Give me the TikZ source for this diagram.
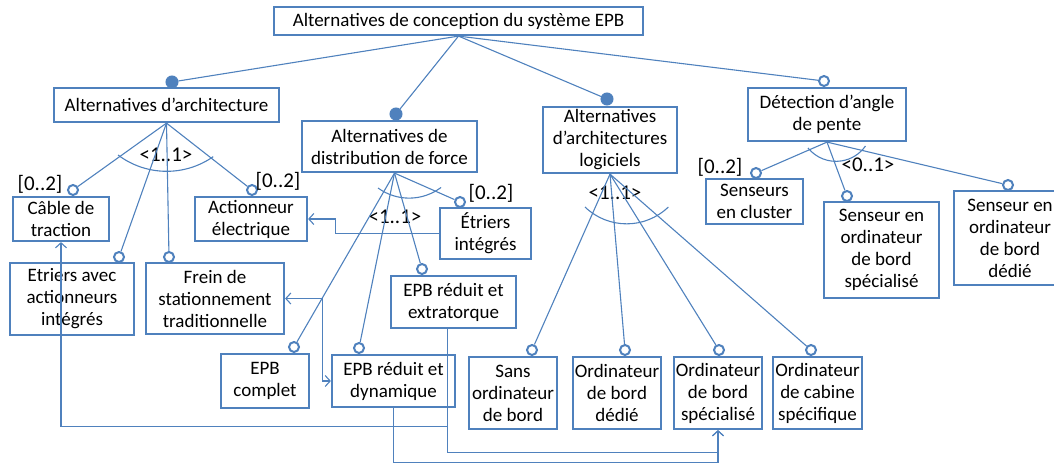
\documentclass[tikz,border=0pt]{standalone}
\usepackage{fontspec}
\setmainfont{Carlito}
\usetikzlibrary{arrows.meta}
\definecolor{epbblue}{RGB}{79,129,189}

\begin{document}
\begin{tikzpicture}[x=1pt,y=-1pt,
	font=\fontsize{19}{22}\selectfont,
	box/.style={draw=epbblue,line width=2.2pt,align=center,inner sep=1pt},
	link/.style={draw=epbblue,line width=1.1pt},
	card/.style={font=\fontsize{21}{24}\selectfont,inner sep=0pt},
	fdot/.style={circle,fill=epbblue,draw=epbblue,line width=1pt,minimum size=12pt,inner sep=0pt},
	odot/.style={circle,fill=white,draw=epbblue,line width=2pt,minimum size=10pt,inner sep=0pt},
	flow/.style={link,-{Straight Barb[length=5pt,width=11pt]}},
	flowboth/.style={link,{Straight Barb[length=5pt,width=11pt]}-{Straight Barb[length=5pt,width=11pt]}}]
	\clip (0,0) rectangle (1054,463);
	
	\node[box,minimum width=369pt,minimum height=28pt] (root) at (458.5,21) {Alternatives de conception du système EPB};
	\node[box,minimum width=225pt,minimum height=34pt] (arch) at (166.5,105) {Alternatives d’architecture};
	\node[box,minimum width=175pt,minimum height=51pt] (dist) at (389.5,146.5) {Alternatives de\\distribution de force};
	\node[box,minimum width=134pt,minimum height=66pt] (logi) at (610,140) {Alternatives\\d’architectures\\logiciels};
	\node[box,minimum width=158pt,minimum height=53pt] (slope) at (827,114.5) {Détection d’angle\\de pente};
	
	\node[box,minimum width=96pt,minimum height=44pt] (cable) at (61,219) {Câble de\\traction};
	\node[box,minimum width=112pt,minimum height=44pt] (actuator) at (251,219) {Actionneur\\électrique};
	\node[box,minimum width=124pt,minimum height=72pt] (calipact) at (72,299) {Etriers avec\\actionneurs\\intégrés};
	\node[box,minimum width=138pt,minimum height=71pt] (brake) at (215,298.5) {Frein de\\stationnement\\traditionnelle};
	\node[box,minimum width=91pt,minimum height=51pt] (calipint) at (485.5,233.5) {Étriers\\intégrés};
	\node[box,minimum width=125pt,minimum height=52pt] (extra) at (453.5,302) {EPB réduit et\\extratorque};
	\node[box,minimum width=88pt,minimum height=54pt] (full) at (265,381) {EPB\\complet};
	\node[box,minimum width=123pt,minimum height=52pt] (dyn) at (393.5,381) {EPB réduit et\\dynamique};
	\node[box,minimum width=88pt,minimum height=72pt] (noecu) at (513,393) {Sans\\ordinateur\\de bord};
	\node[box,minimum width=88pt,minimum height=72pt] (ecuded) at (617,393) {Ordinateur\\de bord\\dédié};
	\node[box,minimum width=88pt,minimum height=72pt] (ecuspec) at (718,393) {Ordinateur\\de bord\\spécialisé};
	\node[box,minimum width=89pt,minimum height=72pt] (cabin) at (817.5,393) {Ordinateur\\de cabine\\spécifique};
	\node[box,minimum width=97pt,minimum height=45pt] (cluster) at (754.5,201.5) {Senseurs\\en cluster};
	\node[box,minimum width=115pt,minimum height=96pt] (senspec) at (881.5,250) {Senseur en\\ordinateur\\de bord\\spécialisé};
	\node[box,minimum width=112pt,minimum height=94pt] (sended) at (1010,238) {Senseur en\\ordinateur\\de bord\\dédié};
	
	\node[fdot] (archd) at (172,82) {};
	\node[fdot] (distd) at (396,114) {};
	\node[fdot] (logid) at (607,99) {};
	\node[odot] (slopeo) at (824,81) {};
	\node[odot] (cableo) at (73,190) {};
	\node[odot] (actuatoro) at (252,190) {};
	\node[odot] (calipacto) at (119,257) {};
	\node[odot] (brakeo) at (169,257) {};
	\node[odot] (calipinto) at (460,202) {};
	\node[odot] (extrao) at (422,269) {};
	\node[odot] (fullo) at (294,347) {};
	\node[odot] (dyno) at (359,348) {};
	\node[odot] (noecuo) at (532,350) {};
	\node[odot] (ecudedo) at (625,350) {};
	\node[odot] (ecuspeco) at (719,350) {};
	\node[odot] (cabino) at (811,350) {};
	\node[odot] (clustero) at (756,173) {};
	\node[odot] (senspeco) at (847,196) {};
	\node[odot] (sendedo) at (1008,185) {};
	
	\node[card] (cardcable) at (40,184) {[0..2]};
	\node[card] (cardactuator) at (278,181) {[0..2]};
	\node[card] (cardcalip) at (491,193) {[0..2]};
	\node[card] (cardcluster) at (720,167) {[0..2]};
	\node[card] (cardarch) at (166,155) {<1..1>};
	\node[card] (carddist) at (395,217) {<1..1>};
	\node[card] (cardlogi) at (615,193) {<1..1>};
	\node[card] (cardslope) at (868,165) {<0..1>};
	
	\path[link]
	(root.south) edge (archd)
	(root.south) edge (distd)
	(root.south) edge (logid)
	(root.south) edge (slopeo)
	(arch.south) edge (cableo)
	(arch.south) edge (calipacto)
	(arch.south) edge (brakeo)
	(arch.south) edge (actuatoro)
	([xshift=5pt]dist.south) edge (fullo)
	([xshift=5pt]dist.south) edge (dyno)
	([xshift=5pt]dist.south) edge (extrao)
	([xshift=5pt]dist.south) edge (calipinto)
	(logi.south) edge (noecuo)
	(logi.south) edge (ecudedo)
	(logi.south) edge (ecuspeco)
	(logi.south) edge (cabino)
	(slope.south) edge (clustero)
	(slope.south) edge (senspeco)
	(slope.south) edge (sendedo);
	
	\draw[link] (118,155) arc[start angle=233,end angle=305,radius=81pt];
	\draw[link] (378,188) arc[start angle=234,end angle=307,radius=53pt];
	\draw[link] (585,207) arc[start angle=226,end angle=314,radius=60pt];
	\draw[link] (808,148) arc[start angle=219,end angle=325,radius=36pt];
	
	\draw[flow] (calipint.west) -- ++(-103,0) |- (actuator.east);
	\draw[flowboth] (brake.east) -- ++(37,0) |- (dyn.west);
	\draw[flow] ([xshift=-6pt]extra.south) -- ++(0,97) -| (cable.south);
	\draw[flow] ([xshift=-6pt]extra.south) -- ++(0,123) -| (ecuspec.south);
	\draw[flow] (dyn.south) -- ++(0,54) -| (ecuspec.south);
	
\end{tikzpicture}
\end{document}
